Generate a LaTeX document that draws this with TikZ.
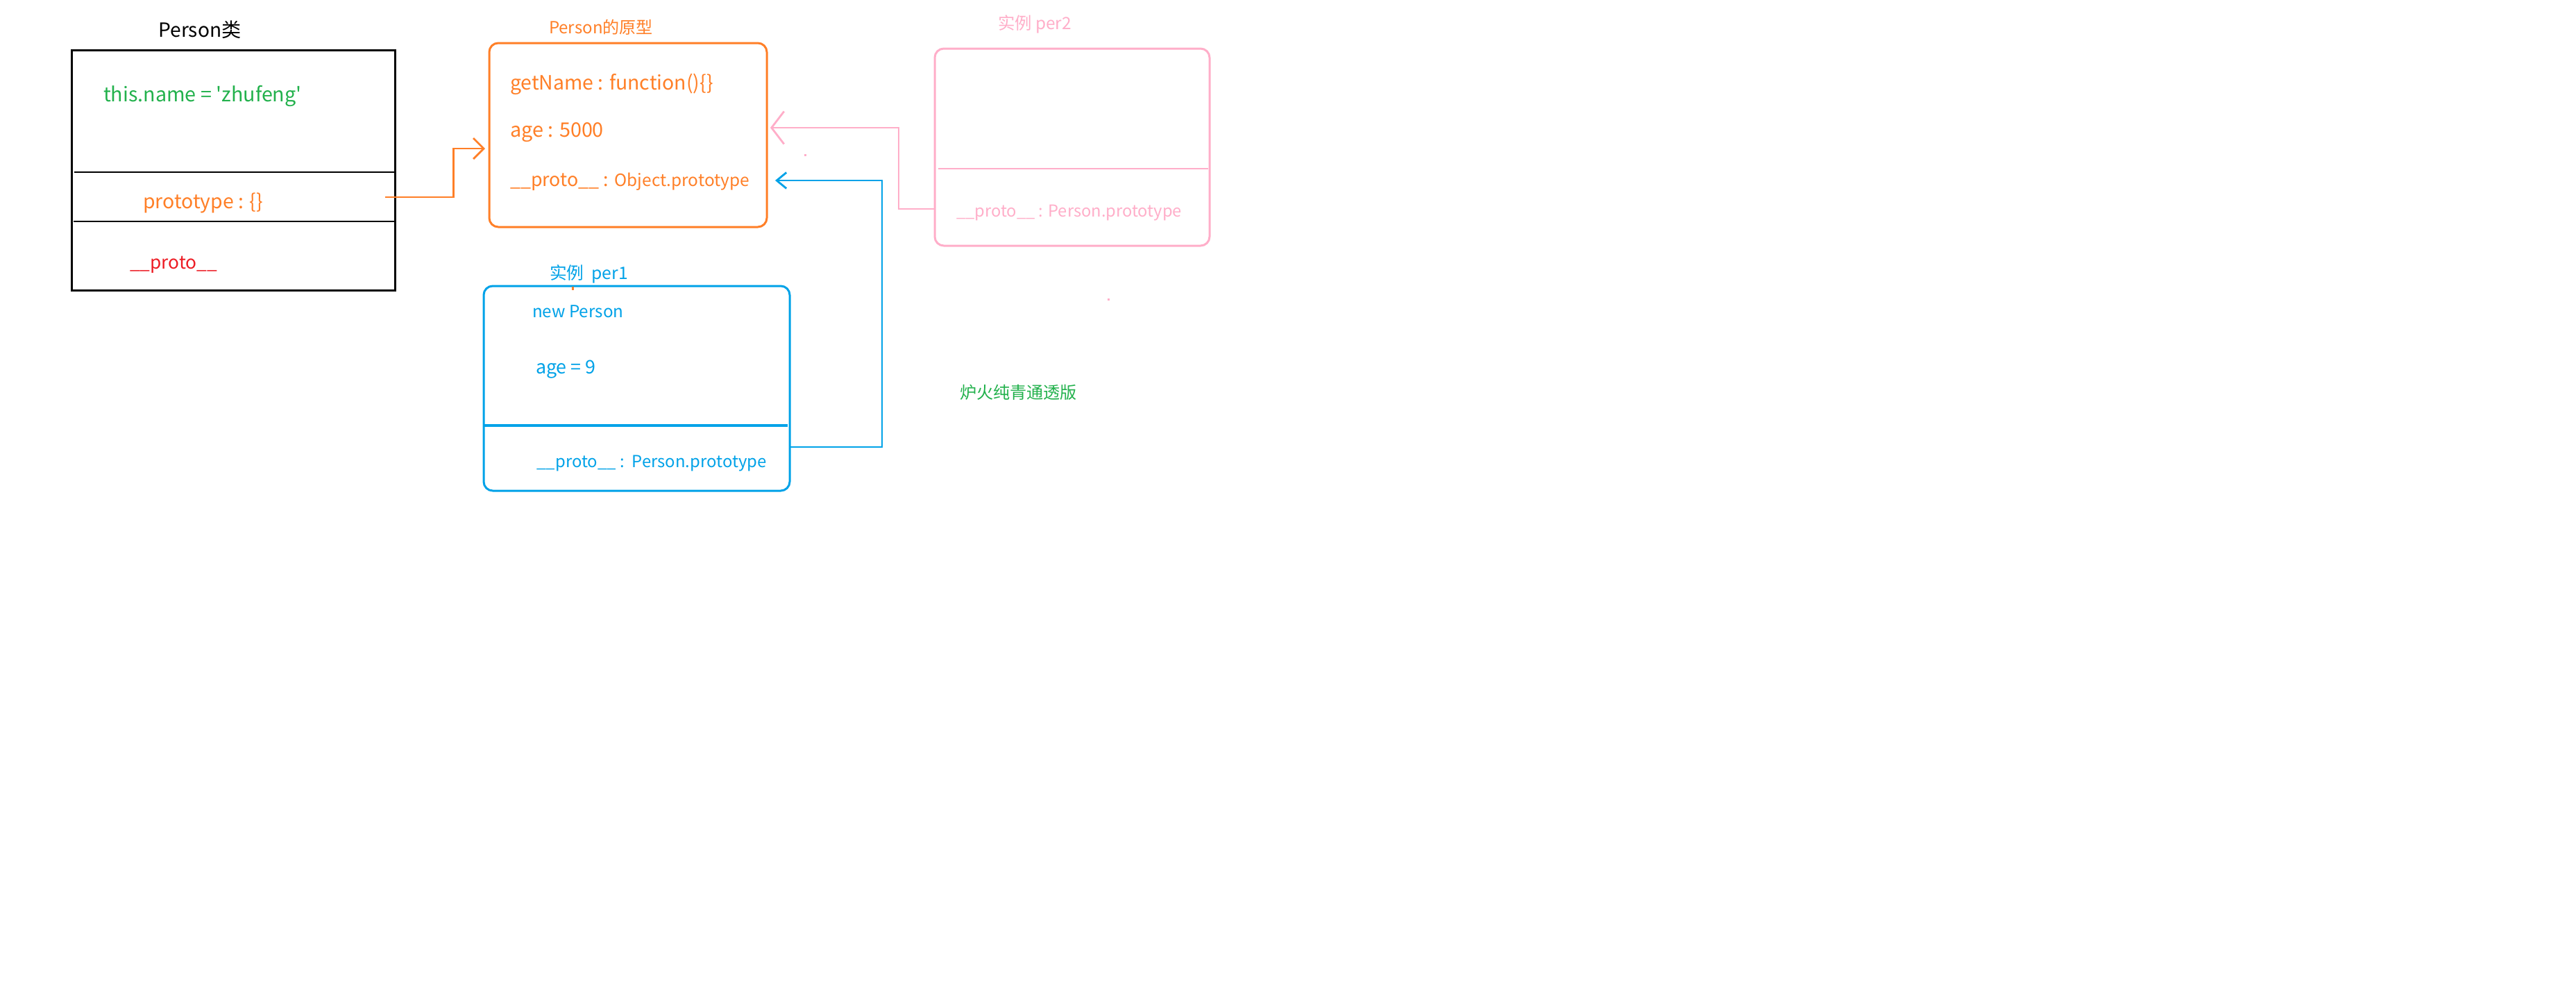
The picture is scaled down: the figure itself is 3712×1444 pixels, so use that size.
\documentclass[tikz,border=0pt]{standalone}
\usepackage{fontspec}
\newfontfamily\mainf{Noto Sans CJK SC}
\usetikzlibrary{arrows.meta}
\newlength\pxu
\setlength\pxu{0.2pt}
\newcommand\fw[2]{\resizebox{#1\pxu}{!}{#2}}
\definecolor{cOrange}{RGB}{255,127,39}
\definecolor{cGreen}{RGB}{34,177,76}
\definecolor{cRed}{RGB}{237,28,36}
\definecolor{cPink}{RGB}{255,174,201}
\definecolor{cBlue}{RGB}{0,162,232}
\begin{document}
\begin{tikzpicture}[x=0.2pt,y=-0.2pt,
  every node/.style={font=\mainf},
  txt/.style={anchor=base west,inner sep=0pt,outer sep=0pt},
  ttl/.style={anchor=base,inner sep=0pt,outer sep=0pt},
  box/.style={inner sep=0pt,outer sep=0pt,line width=0.6pt},
  rbox/.style={box,rounded corners=2.6pt},
  conn/.style={line width=0.56pt},
]
\useasboundingbox[fill=white] (0,0) rectangle (3712,1444);

% ---- Person class box (black)
\node[box,draw=black,minimum width=466\pxu,minimum height=346\pxu] (pbox) at (336,245) {};
\draw[black,line width=0.58pt] (107,248) -- (571,248);
\draw[black,line width=0.58pt] (106,319) -- (569,319);
\node[ttl,text=black] (ptitle) at (288,53) {\fw{119}{Person类}};
\node[txt,text=cGreen] (pname) at (149,146) {\fw{285.6}{this.name = 'zhufeng'}};
\node[txt,text=cOrange] (pproto) at (206,300) {\fw{173}{prototype : \{\}}};
\node[txt,text=cRed] (p__) at (187,387) {\fw{126}{\_\_proto\_\_}};

% ---- Person prototype box (orange)
\node[rbox,draw=cOrange,minimum width=400\pxu,minimum height=265\pxu] (proto) at (905,194.5) {};
\node[ttl,text=cOrange] (prtitle) at (866,48) {\fw{150}{Person的原型}};
\node[txt,text=cOrange] (prget) at (735,129) {\fw{292.6}{getName : function()\{\}}};
\node[txt,text=cOrange] (prage) at (735,197) {\fw{135}{age : 5000}};
\node[txt,text=cOrange] (pr__) at (735,268) {\fw{142}{\_\_proto\_\_ :}\hspace{8.7\pxu}\fw{194.3}{Object.prototype}};

% ---- instance per2 (pink)
\node[rbox,draw=cPink,minimum width=396\pxu,minimum height=284\pxu] (per2) at (1545,212) {};
\draw[cPink,line width=0.56pt] (1352,243) -- (1741,243);
\node[ttl,text=cPink] (p2title) at (1491,42) {\fw{106}{实例 per2}};
\node[txt,text=cPink] (p2__) at (1378,312) {\fw{325}{\_\_proto\_\_ : Person.prototype}};

% ---- instance per1 (blue)
\node[rbox,draw=cBlue,minimum width=441\pxu,minimum height=295\pxu] (per1) at (917.5,559.5) {};
\draw[cBlue,line width=0.62pt] (697,613) -- (1135,613);
\node[ttl,text=cBlue] (p1title) at (848.5,402) {\fw{113}{实例\ \ per1}};
\node[txt,text=cBlue] (p1new) at (767,457) {\fw{131.5}{new Person}};
\node[txt,text=cBlue] (p1age) at (772,538) {\fw{86.6}{age = 9}};
\node[txt,text=cBlue] (p1__) at (773.6,673) {\fw{331}{\_\_proto\_\_ :\ \ Person.prototype}};

% ---- green text
\node[ttl,text=cGreen] (note) at (1467.5,574) {\fw{169}{炉火纯青通透版}};

% ---- connectors
\coordinate (oS) at (555,284);
\coordinate (oE) at (699,214);
\draw[conn,cOrange,-{Straight Barb[length=3pt,width=6pt]}] (oS) -- (653.5,284) |- (oE);

\coordinate (pS) at (1347,301);
\coordinate (pE) at (1110,184);
\draw[conn,cPink,-{Straight Barb[length=3.6pt,width=9.4pt]}] (pS) -- (1295,301) |- (pE);

\coordinate (bS) at (1138,644);
\coordinate (bE) at (1117,260);
\draw[conn,cBlue,-{Straight Barb[length=2.8pt,width=4.6pt]}] (bS) -- (1271,644) |- (bE);

% ---- small stray marks
\fill[cPink] (1158.5,221.5) rectangle (1161.5,224.5);
\fill[cPink] (1595.5,429.5) rectangle (1598.5,433);
\fill[cOrange] (823.5,413) rectangle (826.5,417.5);
\end{tikzpicture}
\end{document}
